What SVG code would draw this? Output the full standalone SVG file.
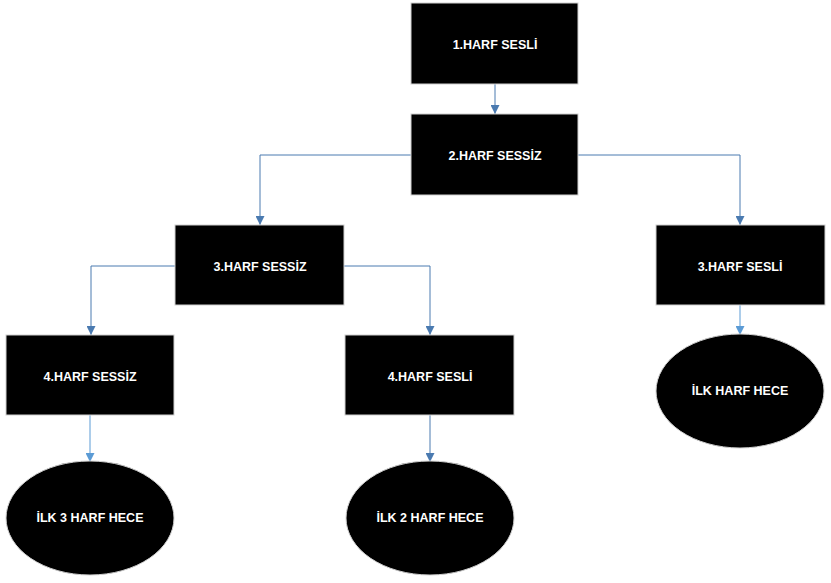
<svg xmlns="http://www.w3.org/2000/svg" width="831" height="583" viewBox="0 0 831 583">
<defs>
<style>
.box{fill:#000;stroke:#d0d0d0;stroke-width:1}
.lbl{fill:#fff;font-family:"Liberation Sans",Arial,sans-serif;font-weight:bold;font-size:12.5px;text-anchor:middle;dominant-baseline:central}
.c{fill:none;stroke:#4a7ab0;stroke-width:1}
.cl{fill:none;stroke:#5b9bd5;stroke-width:1}
</style>
<marker id="ad" viewBox="0 0 10 10" refX="10" refY="5" markerWidth="9" markerHeight="9" markerUnits="userSpaceOnUse" orient="auto"><path d="M0,0 L10,5 L0,10 Z" fill="#4a7ab0"/></marker>
<marker id="al" viewBox="0 0 10 10" refX="10" refY="5" markerWidth="9" markerHeight="9" markerUnits="userSpaceOnUse" orient="auto"><path d="M0,0 L10,5 L0,10 Z" fill="#5b9bd5"/></marker>
</defs>
<rect width="831" height="583" fill="#fff"/>
<g id="connectors">
<path class="c" d="M495,84 V114" marker-end="url(#ad)"/>
<path class="c" d="M411,155 H260 V225" marker-end="url(#ad)"/>
<path class="c" d="M578,155 H740 V225" marker-end="url(#ad)"/>
<path class="c" d="M175,266 H91 V335" marker-end="url(#ad)"/>
<path class="c" d="M344,266 H430 V335" marker-end="url(#ad)"/>
<path class="cl" d="M90,415 V462" marker-end="url(#al)"/>
<path class="c" d="M430,415 V462" marker-end="url(#ad)"/>
<path class="cl" d="M740,305 V335" marker-end="url(#al)"/>
</g>
<g id="n1"><rect class="box" x="411" y="3" width="167" height="81"/><text class="lbl" x="495" y="45">1.HARF SESLİ</text></g>
<g id="n2"><rect class="box" x="411" y="114" width="167" height="81"/><text class="lbl" x="495" y="156">2.HARF SESSİZ</text></g>
<g id="n3a"><rect class="box" x="175" y="225" width="169" height="80"/><text class="lbl" x="260" y="267">3.HARF SESSİZ</text></g>
<g id="n3b"><rect class="box" x="656" y="225" width="169" height="80"/><text class="lbl" x="740" y="267">3.HARF SESLİ</text></g>
<g id="n4a"><rect class="box" x="6" y="335" width="168" height="80"/><text class="lbl" x="90" y="377">4.HARF SESSİZ</text></g>
<g id="n4b"><rect class="box" x="345" y="335" width="169" height="80"/><text class="lbl" x="430" y="377">4.HARF SESLİ</text></g>
<g id="e1"><ellipse class="box" cx="90" cy="518" rx="84" ry="57"/><text class="lbl" x="90" y="518">İLK 3 HARF HECE</text></g>
<g id="e2"><ellipse class="box" cx="430" cy="518" rx="84" ry="57"/><text class="lbl" x="430" y="518">İLK 2 HARF HECE</text></g>
<g id="e3"><ellipse class="box" cx="740" cy="391" rx="84" ry="57"/><text class="lbl" x="740" y="391">İLK HARF HECE</text></g>
</svg>
